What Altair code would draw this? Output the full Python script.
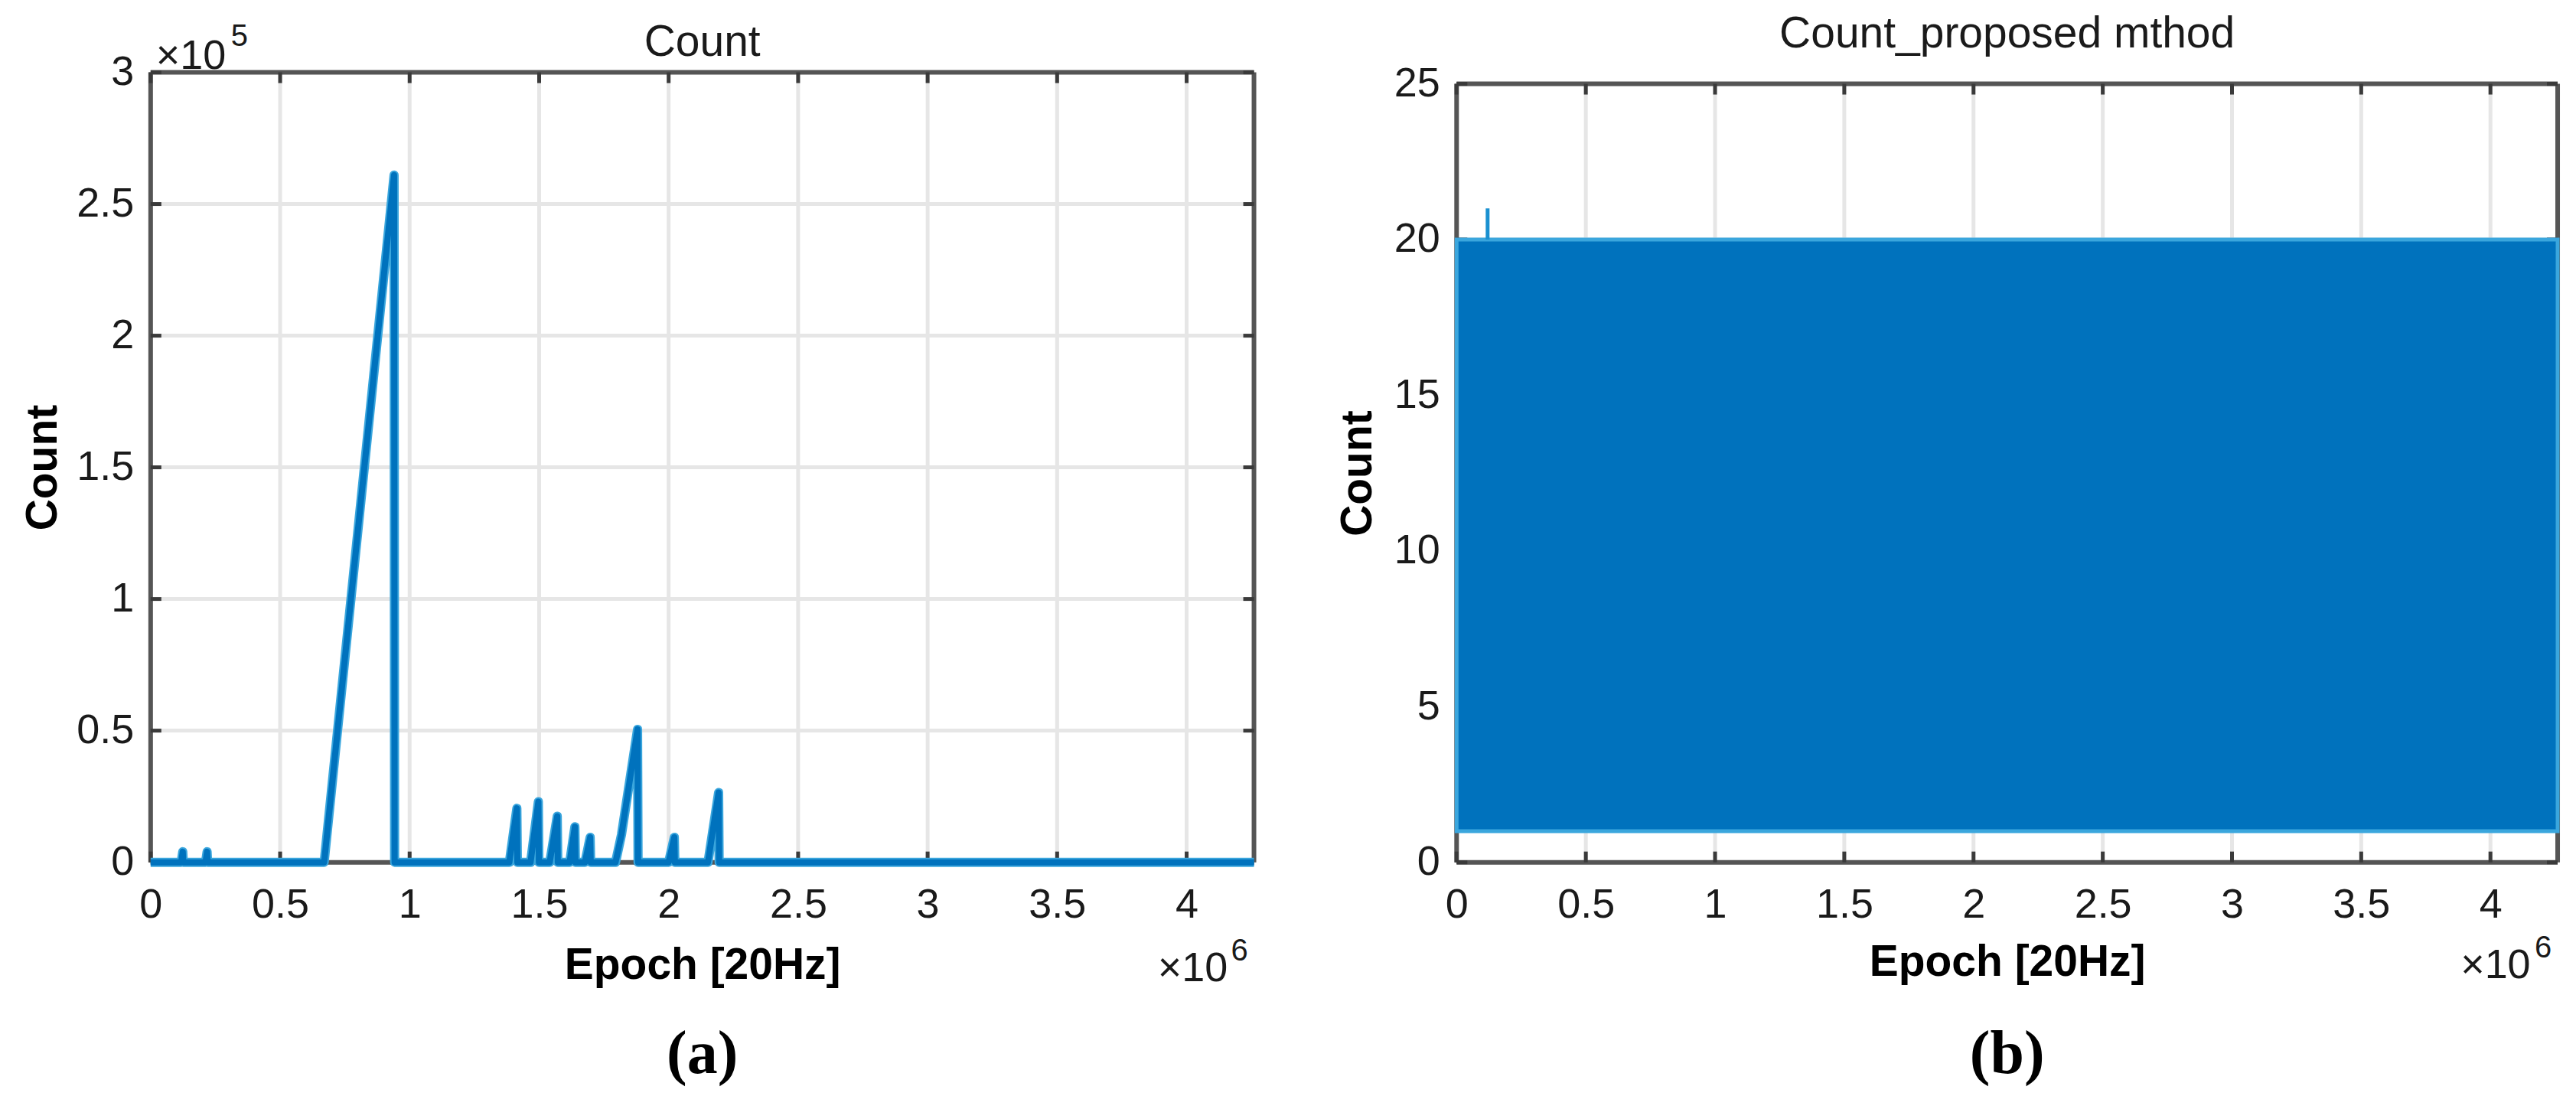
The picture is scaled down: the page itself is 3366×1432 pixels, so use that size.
import altair as alt
import pandas as pd

# ---------------- data ----------------
# Panel (a): Count vs Epoch [20Hz]
a_epoch = [0, 118000, 124000, 126000, 212000, 218000, 220000,
           670000, 940000, 942000,
           1385000, 1414000, 1416000,
           1467000, 1497000, 1499000,
           1541000, 1570000, 1572000,
           1618000, 1638000, 1640000,
           1677000, 1697000, 1699000,
           1795000, 1818000, 1880000, 1882000,
           2000000, 2022000, 2024000,
           2152000, 2193000, 2195000,
           4260000]
a_count = [0, 0, 4000, 0, 0, 4000, 0,
           0, 261000, 0,
           0, 20500, 0,
           0, 23000, 0,
           0, 17500, 0,
           0, 13500, 0,
           0, 9500, 0,
           0, 10500, 50500, 0,
           0, 9500, 0,
           0, 26500, 0,
           0]

# Panel (b): Count_proposed method (dense oscillation between 1 and 20)
b_epoch = [0, 4260000]
b_low = [1, 1]
b_high = [20, 20]
spike_epoch = [120000]
spike_base = [20]
spike_top = [21]

# ticks / axis limits
x_ticks = [0, 500000, 1000000, 1500000, 2000000, 2500000, 3000000, 3500000, 4000000]
ya_ticks = [0, 50000, 100000, 150000, 200000, 250000, 300000]
yb_ticks = [0, 5, 10, 15, 20, 25]
x_max = 4260000
ya_max = 300000
yb_max = 25

FONT = "Liberation Sans"
BLUE = "#0072BD"
LIGHT = "#3AA6DD"
GRID = "#e6e6e6"
BOX = "#555555"
TICK = "#3a3a3a"
TL = 14
HA = 1033          # common view height
WA, WB = 1443, 1440
TOP_B = 15         # panel (b) box starts a little lower


def txt(s, x, y, size=54, weight="normal", font=FONT, align="left", baseline="alphabetic", color="#1a1a1a"):
    return alt.Chart(pd.DataFrame({"t": [s]})).mark_text(
        font=font, fontSize=size, fontWeight=weight, align=align, baseline=baseline, color=color
    ).encode(x=alt.value(x), y=alt.value(y), text="t:N")


def frame_layers(W, top, xs, ys, ax, ay, yticks, ymax):
    """grid, box and inward ticks, all driven by the tick values through the scales"""
    xt = pd.DataFrame({"v": x_ticks})
    yt = pd.DataFrame({"v": yticks})
    one = pd.DataFrame({"a": [0]})
    X = lambda f: alt.X(f, scale=xs, axis=ax)
    Y = lambda f: alt.Y(f, scale=ys, axis=ay)
    layers = [
        # grid
        alt.Chart(xt).mark_rule(color=GRID, strokeWidth=5).encode(
            x=X("v:Q"), y=alt.datum(0), y2=alt.datum(ymax)),
        alt.Chart(yt).mark_rule(color=GRID, strokeWidth=5).encode(
            y=Y("v:Q"), x=alt.datum(0), x2=alt.datum(x_max)),
        # box
        alt.Chart(one).mark_rule(color=BOX, strokeWidth=6).encode(
            x=alt.datum(0), y=alt.datum(0), y2=alt.datum(ymax)),
        alt.Chart(one).mark_rule(color=BOX, strokeWidth=6).encode(
            x=alt.datum(x_max), y=alt.datum(0), y2=alt.datum(ymax)),
        alt.Chart(one).mark_rule(color=BOX, strokeWidth=6).encode(
            y=alt.datum(0), x=alt.datum(0), x2=alt.datum(x_max)),
        alt.Chart(one).mark_rule(color=BOX, strokeWidth=6).encode(
            y=alt.datum(ymax), x=alt.datum(0), x2=alt.datum(x_max)),
        # inward ticks
        alt.Chart(xt).mark_rule(color=TICK, strokeWidth=5).encode(
            x=X("v:Q"), y=alt.value(HA), y2=alt.value(HA - TL)),
        alt.Chart(xt).mark_rule(color=TICK, strokeWidth=5).encode(
            x=X("v:Q"), y=alt.value(top), y2=alt.value(top + TL)),
        alt.Chart(yt).mark_rule(color=TICK, strokeWidth=5).encode(
            y=Y("v:Q"), x=alt.value(0), x2=alt.value(TL)),
        alt.Chart(yt).mark_rule(color=TICK, strokeWidth=5).encode(
            y=Y("v:Q"), x=alt.value(W), x2=alt.value(W - TL)),
    ]
    return layers


def x_axis(title_pad):
    return alt.Axis(values=x_ticks, labelExpr="datum.value / 1000000", title="Epoch [20Hz]",
                    ticks=False, domain=False, grid=False, labelPadding=29, titlePadding=title_pad,
                    minExtent=83, maxExtent=83, labelFlush=False, labelOverlap=False)


# ---------------- panel (a) ----------------
xs_a = alt.Scale(domain=[0, x_max], nice=False, zero=False)
ys_a = alt.Scale(domain=[0, ya_max], nice=False)
ax_a = x_axis(24)
ay_a = alt.Axis(values=ya_ticks, labelExpr="datum.value / 100000", title="Count",
                ticks=False, domain=False, grid=False, labelPadding=22, titlePadding=11,
                minExtent=100, maxExtent=100, labelFlush=False)
df_a = pd.DataFrame({"epoch": a_epoch, "count": a_count})

line_a_halo = alt.Chart(df_a).mark_line(color=LIGHT, strokeWidth=12, strokeJoin="round").encode(
    x=alt.X("epoch:Q", scale=xs_a, axis=ax_a), y=alt.Y("count:Q", scale=ys_a, axis=ay_a))
line_a = alt.Chart(df_a).mark_line(color=BLUE, strokeWidth=8, strokeJoin="round").encode(
    x=alt.X("epoch:Q", scale=xs_a, axis=ax_a), y=alt.Y("count:Q", scale=ys_a, axis=ay_a))

panel_a = alt.layer(
    *frame_layers(WA, 0, xs_a, ys_a, ax_a, ay_a, ya_ticks, ya_max),
    line_a_halo, line_a,
    txt("Count", WA / 2, -22, size=57, align="center"),
    txt("×10", 7, -5, size=54),
    txt("5", 105, -35, size=40),
    txt("×10", WA - 126, HA + 156, size=54),
    txt("6", WA - 30, HA + 128, size=40),
    txt("(a)", WA / 2, HA + 252, size=80, weight="bold", font="Liberation Serif",
        align="center", baseline="middle", color="#000000"),
).properties(width=WA, height=HA)

# ---------------- panel (b) ----------------
xs_b = alt.Scale(domain=[0, x_max], nice=False, zero=False)
ys_b = alt.Scale(domain=[0, yb_max], nice=False, range=[HA, TOP_B])
ax_b = x_axis(20)
ay_b = alt.Axis(values=yb_ticks, title="Count", ticks=False, domain=False, grid=False,
                labelPadding=22, titlePadding=11, minExtent=89, maxExtent=89, labelFlush=False)
df_b = pd.DataFrame({"epoch": b_epoch, "low": b_low, "high": b_high})
df_s = pd.DataFrame({"epoch": spike_epoch, "base": spike_base, "top": spike_top})

area_b = alt.Chart(df_b).mark_area(color=BLUE, stroke=LIGHT, strokeWidth=5, opacity=1).encode(
    x=alt.X("epoch:Q", scale=xs_b, axis=ax_b), y=alt.Y("high:Q", scale=ys_b, axis=ay_b), y2="low:Q")
spike_b = alt.Chart(df_s).mark_rule(color="#1a90d0", strokeWidth=5).encode(
    x=alt.X("epoch:Q", scale=xs_b, axis=ax_b), y=alt.Y("base:Q", scale=ys_b, axis=ay_b), y2="top:Q")

panel_b = alt.layer(
    *frame_layers(WB, TOP_B, xs_b, ys_b, ax_b, ay_b, yb_ticks, yb_max),
    area_b, spike_b,
    txt("Count_proposed mthod", WB / 2, -33, size=57, align="center"),
    txt("×10", WB - 127, HA + 152, size=54),
    txt("6", WB - 30, HA + 124, size=40),
    txt("(b)", WB / 2, HA + 252, size=80, weight="bold", font="Liberation Serif",
        align="center", baseline="middle", color="#000000"),
).properties(width=WB, height=HA)

chart = alt.hconcat(panel_a, panel_b, spacing=99).properties(
    padding={"left": 19, "top": 6, "right": 5, "bottom": 5},
    background="white",
).configure_view(stroke="transparent").configure_axis(
    labelFont=FONT, labelFontSize=54, labelColor="#1a1a1a",
    titleFont=FONT, titleFontSize=57, titleFontWeight="bold", titleColor="#000000",
)

chart.save("out.html", embed_options={"renderer": "svg", "actions": False})
